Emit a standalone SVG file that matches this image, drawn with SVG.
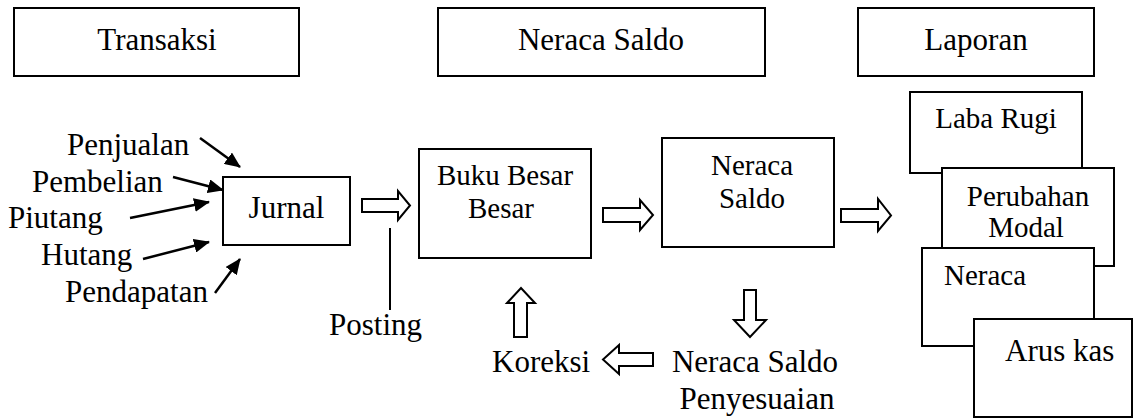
<svg xmlns="http://www.w3.org/2000/svg" width="1134" height="418" viewBox="0 0 1134 418">
<style>
.box{fill:#fff;stroke:#000;stroke-width:2}
.t{font-family:'Liberation Serif','DejaVu Serif',serif;font-size:31px;fill:#000}
.s{font-size:29px}
.m{text-anchor:middle}
.ln{stroke:#000;stroke-width:2.5;fill:none}
.ha{fill:#fff;stroke:#000;stroke-width:2;stroke-linejoin:miter}
</style>
<defs>
<marker id="ah" markerUnits="userSpaceOnUse" markerWidth="16" markerHeight="14" refX="15" refY="7" orient="auto">
<path d="M0,0 L16,7 L0,14 z" fill="#000"/>
</marker>
</defs>
<rect width="1134" height="418" fill="#fff"/>
<g font-family="Liberation Serif, DejaVu Serif, serif">
<g id="hdr-transaksi"><rect class="box" x="14" y="8" width="285" height="68"/><text class="t m" x="157" y="50">Transaksi</text></g>
<g id="hdr-neraca"><rect class="box" x="438" y="8" width="327" height="68"/><text class="t m" x="601" y="50">Neraca Saldo</text></g>
<g id="hdr-laporan"><rect class="box" x="858" y="8" width="236" height="68"/><text class="t m" x="976" y="50">Laporan</text></g>
<g id="lbl-penjualan"><text class="t" x="67" y="155">Penjualan</text></g>
<g id="lbl-pembelian"><text class="t" x="32" y="192">Pembelian</text></g>
<g id="lbl-piutang"><text class="t" x="8" y="228">Piutang</text></g>
<g id="lbl-hutang"><text class="t" x="41" y="265">Hutang</text></g>
<g id="lbl-pendapatan"><text class="t" x="65" y="302">Pendapatan</text></g>
<g id="jurnal"><rect class="box" x="223" y="177" width="127" height="68"/><text class="t m" x="286.5" y="218">Jurnal</text></g>
<g id="bukubesar"><rect class="box" x="419" y="149" width="172" height="109"/><text class="t s m" x="505" y="185">Buku Besar</text><text class="t s m" x="501" y="218">Besar</text></g>
<g id="neracasaldo"><rect class="box" x="662" y="138" width="172" height="109"/><text class="t s m" x="752" y="175">Neraca</text><text class="t s m" x="752" y="208">Saldo</text></g>
<g id="posting"><text class="t" x="329" y="335">Posting</text></g>
<g id="koreksi"><text class="t" x="492" y="372">Koreksi</text></g>
<g id="nsp"><text class="t m" x="755" y="372">Neraca Saldo</text><text class="t m" x="757" y="409">Penyesuaian</text></g>
<g id="labarugi"><rect class="box" x="910" y="92" width="172" height="81"/><text class="t s m" x="996" y="128">Laba Rugi</text></g>
<g id="perubahan"><rect class="box" x="942" y="168" width="172" height="98"/><text class="t s m" x="1028" y="206">Perubahan</text><text class="t s m" x="1026" y="237">Modal</text></g>
<g id="neraca"><rect class="box" x="922" y="248" width="172" height="98"/><text class="t s" x="944" y="285">Neraca</text></g>
<g id="aruskas"><rect class="box" x="974" y="319" width="158" height="98"/><text class="t" x="1005" y="361">Arus kas</text></g>
</g>
<g id="connectors">
<line class="ln" x1="200" y1="138" x2="240" y2="167" marker-end="url(#ah)"/>
<line class="ln" x1="173" y1="177" x2="223" y2="190" marker-end="url(#ah)"/>
<line class="ln" x1="130" y1="218" x2="209" y2="202" marker-end="url(#ah)"/>
<line class="ln" x1="143" y1="259" x2="209" y2="242" marker-end="url(#ah)"/>
<line class="ln" x1="215" y1="293" x2="240" y2="259" marker-end="url(#ah)"/>
<line stroke="#000" stroke-width="2" x1="390" y1="228" x2="390" y2="310"/>
<polygon class="ha" points="362,199 398,199 398,191 410,205.5 398,220 398,212 362,212"/>
<polygon class="ha" points="603,208 640,208 640,200 653,215 640,230 640,222 603,222"/>
<polygon class="ha" points="841,209 878,209 878,199 891,215.5 878,231 878,222 841,222"/>
<polygon class="ha" points="744,290 756,290 756,320 766,320 750,337 734,320 744,320"/>
<polygon class="ha" points="514,337 527,337 527,303 535,303 521,288 507,303 514,303"/>
<polygon class="ha" points="653,353 619,353 619,345 603,359.5 619,374 619,366 653,366"/>
</g>
</svg>
